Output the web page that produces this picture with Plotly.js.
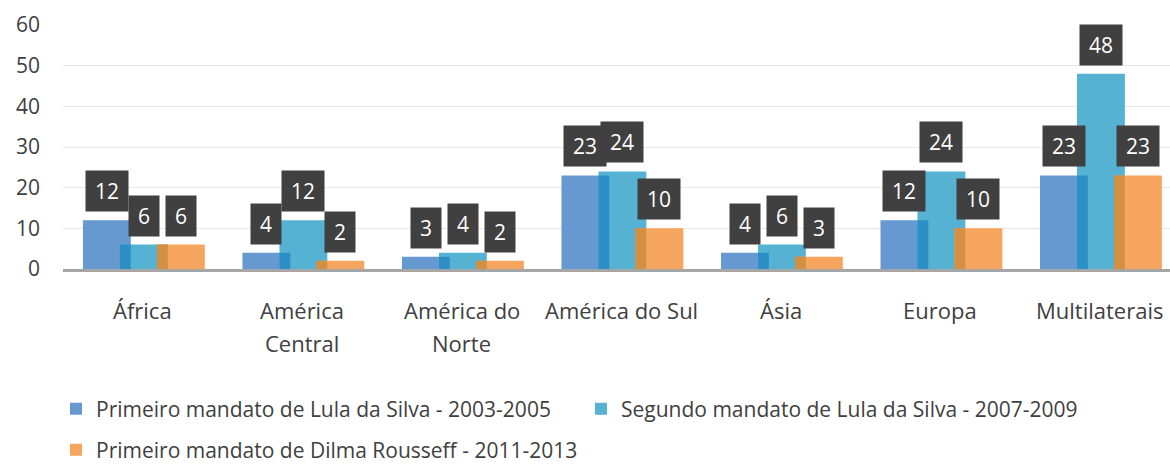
<!DOCTYPE html>
<html>
<head>
<meta charset="utf-8">
<script src="https://cdn.plot.ly/plotly-3.0.1.min.js"></script>
<style>html,body{margin:0;padding:0;background:#fff;}#chart{width:1170px;height:466px;}</style>
</head>
<body>
<div id="chart"></div>
<script>
// ---- data ----
const categories = ["África", "América Central", "América do Norte", "América do Sul", "Ásia", "Europa", "Multilaterais"];
const tickLines = [["África"], ["América", "Central"], ["América do", "Norte"], ["América do Sul"], ["Ásia"], ["Europa"], ["Multilaterais"]];
const seriesNames = [
  "Primeiro mandato de Lula da Silva - 2003-2005",
  "Segundo mandato de Lula da Silva - 2007-2009",
  "Primeiro mandato de Dilma Rousseff - 2011-2013"
];
const lula1 = [12, 4, 3, 23, 4, 12, 23];
const lula2 = [6, 12, 4, 24, 6, 24, 48];
const dilma = [6, 2, 2, 10, 3, 10, 23];

// ---- style ----
const FONT = "Open Sans, Noto Sans, sans-serif";
const TXT = "#404040";
const colors = ["#6699cf", "#55b2d3", "#f6a55f"];
const overlapColors = ["#2c8fc6", "#d39043"];
const W = 0.30;
const offsets = [-0.375, -0.143, 0.089];
const series = [lula1, lula2, dilma];

const traces = series.map((vals, k) => ({
  type: "bar",
  name: seriesNames[k],
  x: categories,
  y: vals,
  width: W,
  offset: offsets[k],
  marker: {color: colors[k], line: {width: 0}},
  legend: k === 2 ? "legend2" : "legend",
  hoverinfo: "x+y+name"
}));

// overlap zones (where adjacent bars overlap, drawn darker)
for (let k = 0; k < 2; k++) {
  const a = series[k], b = series[k + 1];
  const ovl = (offsets[k] + W) - offsets[k + 1];
  traces.push({
    type: "bar",
    x: categories,
    y: a.map((v, i) => Math.min(v, b[i])),
    width: ovl,
    offset: offsets[k + 1],
    marker: {color: overlapColors[k], line: {width: 0}},
    showlegend: false,
    hoverinfo: "skip"
  });
}

const annotations = [];
// value labels
series.forEach((vals, k) => {
  vals.forEach((v, i) => {
    annotations.push({
      x: i + offsets[k] + W / 2,
      y: v,
      xref: "x", yref: "y",
      text: String(v),
      showarrow: false,
      yanchor: "bottom",
      xanchor: "center",
      yshift: 8,
      bgcolor: "#404040",
      borderpad: 9,
      height: 22,
      font: {family: FONT, size: 21, color: "#ffffff"}
    });
  });
});
// category labels (two-line labels spaced as in the original)
tickLines.forEach((lines, i) => {
  lines.forEach((t, j) => {
    annotations.push({
      x: i, y: 0, xref: "x", yref: "paper",
      text: t, showarrow: false,
      xanchor: "center", yanchor: "middle",
      yshift: -41 - 33 * j,
      font: {family: FONT, size: 22, color: TXT}
    });
  });
});

const layout = {
  width: 1170, height: 466,
  margin: {l: 63, r: 0, t: 25, b: 197},
  paper_bgcolor: "#ffffff",
  plot_bgcolor: "#ffffff",
  barmode: "overlay",
  font: {family: FONT, color: TXT},
  xaxis: {
    type: "category",
    categoryarray: categories,
    range: [-0.5, 6.44],
    showticklabels: false,
    ticks: "",
    showgrid: false,
    zeroline: false,
    showline: true,
    linecolor: "#a6a6a6",
    linewidth: 3,
    fixedrange: true
  },
  yaxis: {
    range: [0, 60],
    dtick: 10,
    tick0: 0,
    showgrid: true,
    gridcolor: "#e6e6e6",
    gridwidth: 1,
    zeroline: false,
    showline: false,
    ticks: "",
    ticklabelstandoff: 22,
    tickfont: {family: FONT, size: 21, color: TXT},
    fixedrange: true
  },
  legend: {
    orientation: "h",
    xref: "container", yref: "container",
    x: 56 / 1170, y: 1 - 409 / 466,
    xanchor: "left", yanchor: "middle",
    entrywidth: 480, entrywidthmode: "pixels",
    font: {family: FONT, size: 21, color: TXT},
    bgcolor: "rgba(0,0,0,0)"
  },
  legend2: {
    orientation: "h",
    xref: "container", yref: "container",
    x: 56 / 1170, y: 1 - 450 / 466,
    xanchor: "left", yanchor: "middle",
    font: {family: FONT, size: 21, color: TXT},
    bgcolor: "rgba(0,0,0,0)"
  },
  annotations: annotations,
  showlegend: true
};

Plotly.newPlot("chart", traces, layout, {displayModeBar: false, staticPlot: true});
</script>
</body>
</html>
